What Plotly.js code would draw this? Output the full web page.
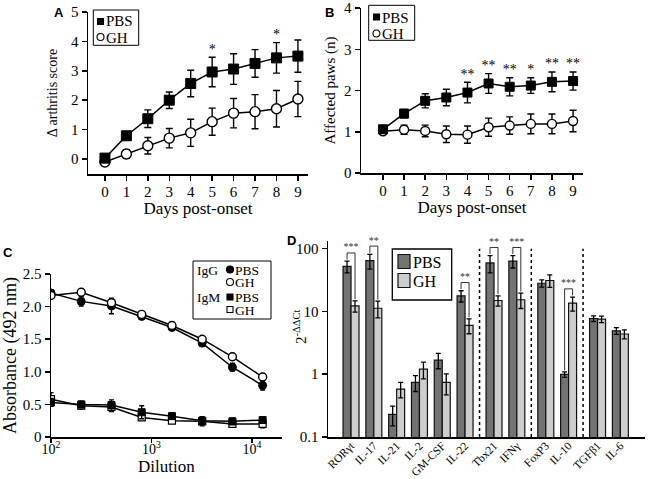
<!DOCTYPE html>
<html><head><meta charset="utf-8">
<script src="https://cdn.plot.ly/plotly-3.0.1.min.js"></script>
<style>html,body{margin:0;padding:0;background:#fff}#chart{width:650px;height:479px}</style>
</head><body><div id="chart"></div>
<script>
// ---------- Panel A: arthritis score ----------
const days = [0,1,2,3,4,5,6,7,8,9];
const scorePBS = [0.03,0.79,1.37,2.0,2.57,2.96,3.06,3.25,3.44,3.5];
const scorePBSErr = [0.05,0.13,0.3,0.28,0.45,0.5,0.52,0.47,0.52,0.55];
const scoreGH = [-0.1,0.17,0.45,0.71,0.89,1.27,1.56,1.61,1.71,2.04];
const scoreGHErr = [0.05,0.15,0.28,0.33,0.46,0.46,0.5,0.58,0.62,0.6];
const scoreSig = ['','','','','','*','','','*',''];

// ---------- Panel B: affected paws ----------
const pawsPBS = [1.06,1.44,1.75,1.83,1.95,2.17,2.09,2.12,2.21,2.23];
const pawsPBSErr = [0.05,0.1,0.17,0.2,0.25,0.24,0.22,0.19,0.24,0.22];
const pawsGH = [1.01,1.05,1.02,0.94,0.93,1.11,1.15,1.19,1.19,1.26];
const pawsGHErr = [0.04,0.11,0.14,0.2,0.21,0.22,0.21,0.24,0.24,0.26];
const pawsSig = ['','','','','**','**','**','*','**','**'];

// ---------- Panel C: antibody titres ----------
const dilution = [100,200,400,800,1600,3200,6400,12800];
const iggPBS = [2.21,2.08,2.01,1.85,1.68,1.44,1.07,0.79];
const iggPBSErr = [0.05,0.07,0.12,0.03,0.04,0.05,0.06,0.07];
const iggGH = [2.17,2.22,2.06,1.88,1.71,1.5,1.23,0.92];
const iggGHErr = [0.04,0.05,0.03,0.04,0.05,0.04,0.05,0.05];
const igmPBS = [0.53,0.5,0.49,0.38,0.32,0.25,0.24,0.26];
const igmPBSErr = [0.06,0.05,0.08,0.1,0.05,0.06,0.05,0.05];
const igmGH = [0.58,0.48,0.46,0.3,0.25,0.24,0.2,0.2];
const igmGHErr = [0.1,0.05,0.07,0.04,0.03,0.07,0.04,0.06];

// ---------- Panel D: gene expression ----------
const genes = ['RORγt','IL-17','IL-21','IL-2','GM-CSF','IL-22','Tbx21','IFNγ','FoxP3','IL-10','TGFβ1','IL-6'];
const geneGroup = [0,0,0,0,0,0,1,1,2,2,3,3];
const exprPBS = [52,64,0.23,0.74,1.68,17.7,59,63,28,0.99,7.7,4.9];
const exprPBSErr = [11,17,0.08,0.21,0.46,3.6,18,14,3.7,0.1,0.8,0.6];
const exprGH = [12.2,11.2,0.58,1.2,0.74,6.0,14.9,15.3,31,13.5,7.5,4.36];
const exprGHErr = [2.5,3.3,0.16,0.36,0.27,1.6,2.8,4.2,7,3.4,0.9,0.7];
const exprSig = ['***','**','','','','**','**','***','','***','',''];

// ---------- styles ----------
const SERIF = 'Liberation Serif, Times New Roman, serif';
const SANS = 'Liberation Sans, Arial, sans-serif';
const GROUP_GAP = 0.27;
const BARGAP = 0.3;
const colPBS = '#737373', colGH = '#cdcdcd';
const W = 650, H = 479;
const px = x => x / W, py = y => 1 - y / H;

const xpos = genes.map((g, i) => i + GROUP_GAP * geneGroup[i]);
const half = (1 - BARGAP) / 4;

const errBar = (arr, w) => ({type:'data', array:arr, visible:true, color:'#000', thickness:1.4, width:w});
const sqFilled = (s) => ({symbol:'square', size:s, color:'#000', line:{color:'#000', width:1}});
const circOpen = (s) => ({symbol:'circle', size:s, color:'#fff', line:{color:'#000', width:1.4}});
const circFilled = (s) => ({symbol:'circle', size:s, color:'#000', line:{color:'#000', width:1}});
const sqOpen = (s) => ({symbol:'square', size:s, color:'#fff', line:{color:'#000', width:1.2}});
const lineSt = {color:'#000', width:1.5};

function sigTrace(xs, vals, errs, sig, xa, ya) {
  const idx = sig.map((s, i) => s ? i : -1).filter(i => i >= 0);
  return {x:idx.map(i => xs[i]), y:idx.map(i => vals[i] + errs[i]), text:idx.map(i => sig[i]),
    mode:'text', textposition:'top center', textfont:{family:SERIF, size:14, color:'#000'},
    cliponaxis:false, xaxis:xa, yaxis:ya, showlegend:false, hoverinfo:'skip'};
}

const traces = [];
// Panel A
traces.push({x:days, y:scoreGH, error_y:errBar(scoreGHErr,3.5), mode:'lines+markers', line:lineSt, marker:circOpen(10), xaxis:'x', yaxis:'y', showlegend:false, name:'GH'});
traces.push({x:days, y:scorePBS, error_y:errBar(scorePBSErr,3.5), mode:'lines+markers', line:lineSt, marker:sqFilled(10), xaxis:'x', yaxis:'y', showlegend:false, name:'PBS'});
traces.push(sigTrace(days, scorePBS, scorePBSErr, scoreSig, 'x', 'y'));
// Panel B
traces.push({x:days, y:pawsGH, error_y:errBar(pawsGHErr,3.5), mode:'lines+markers', line:lineSt, marker:circOpen(9), xaxis:'x2', yaxis:'y2', showlegend:false, name:'GH'});
traces.push({x:days, y:pawsPBS, error_y:errBar(pawsPBSErr,3.5), mode:'lines+markers', line:lineSt, marker:sqFilled(9), xaxis:'x2', yaxis:'y2', showlegend:false, name:'PBS'});
traces.push(sigTrace(days, pawsPBS, pawsPBSErr, pawsSig, 'x2', 'y2'));
// Panel C
traces.push({x:dilution, y:igmGH, error_y:errBar(igmGHErr,2.5), mode:'lines+markers', line:lineSt, marker:sqOpen(7), xaxis:'x3', yaxis:'y3', showlegend:false, name:'IgM GH'});
traces.push({x:dilution, y:igmPBS, error_y:errBar(igmPBSErr,2.5), mode:'lines+markers', line:lineSt, marker:sqFilled(7), xaxis:'x3', yaxis:'y3', showlegend:false, name:'IgM PBS'});
traces.push({x:dilution, y:iggPBS, error_y:errBar(iggPBSErr,2.5), mode:'lines+markers', line:lineSt, marker:circFilled(8), xaxis:'x3', yaxis:'y3', showlegend:false, name:'IgG PBS'});
traces.push({x:dilution, y:iggGH, error_y:errBar(iggGHErr,2.5), mode:'lines+markers', line:lineSt, marker:circOpen(8), xaxis:'x3', yaxis:'y3', showlegend:false, name:'IgG GH'});
// Panel D
traces.push({type:'bar', x:xpos, y:exprPBS, name:'PBS', marker:{color:colPBS, line:{color:'#111', width:1.2}}, error_y:Object.assign(errBar(exprPBSErr,2.5),{thickness:1.3}), xaxis:'x4', yaxis:'y4', showlegend:false});
traces.push({type:'bar', x:xpos, y:exprGH, name:'GH', marker:{color:colGH, line:{color:'#111', width:1.2}}, error_y:Object.assign(errBar(exprGHErr,2.5),{thickness:1.3}), xaxis:'x4', yaxis:'y4', showlegend:false});

// brackets + stars for D
const bx = [], by = [], sx = [], sy = [], st = [];
exprSig.forEach((s, i) => {
  if (!s) return;
  const pTop = exprPBS[i] + exprPBSErr[i];
  const gTop = exprGH[i] + exprGHErr[i];
  const top = Math.max(pTop, gTop) * 1.35;
  bx.push(xpos[i]-half, xpos[i]-half, xpos[i]+half, xpos[i]+half, null);
  by.push(pTop*1.06, top, top, gTop*1.06, null);
  sx.push(xpos[i]); sy.push(top); st.push(s);
});
traces.push({x:bx, y:by, mode:'lines', line:{color:'#333', width:1}, xaxis:'x4', yaxis:'y4', showlegend:false, hoverinfo:'skip'});
traces.push({x:sx, y:sy, text:st, mode:'text', textposition:'top center', textfont:{family:SERIF,size:10,color:'#333'}, cliponaxis:false, xaxis:'x4', yaxis:'y4', showlegend:false, hoverinfo:'skip'});

// ---------- shapes ----------
const shapes = [];
for (let i = 1; i < genes.length; i++) {
  if (geneGroup[i] !== geneGroup[i-1]) {
    const xm = (xpos[i-1] + xpos[i]) / 2;
    shapes.push({type:'line', xref:'x4', yref:'y4 domain', x0:xm, x1:xm, y0:0, y1:0.96, line:{color:'#000', width:1.5, dash:'dot'}});
  }
}
const box = (x0, y0, x1, y1, w) => ({type:'rect', xref:'paper', yref:'paper', x0:px(x0), x1:px(x1), y0:py(y1), y1:py(y0), line:{color:'#000', width:w}, fillcolor:'#fff', layer:'above'});
const keySq = (cx, cy, s, fill) => ({type:'rect', xref:'paper', yref:'paper', x0:px(cx-s/2), x1:px(cx+s/2), y0:py(cy+s/2), y1:py(cy-s/2), line:{color:'#000', width:1.1}, fillcolor:fill, layer:'above'});
const keyCirc = (cx, cy, d, fill) => ({type:'circle', xref:'paper', yref:'paper', x0:px(cx-d/2), x1:px(cx+d/2), y0:py(cy+d/2), y1:py(cy-d/2), line:{color:'#000', width:1.1}, fillcolor:fill, layer:'above'});
const keyRect = (x0, y0, x1, y1, fill) => ({type:'rect', xref:'paper', yref:'paper', x0:px(x0), x1:px(x1), y0:py(y1), y1:py(y0), line:{color:'#111', width:1.2}, fillcolor:fill, layer:'above'});

// legend A
shapes.push(box(93.3, 10, 138.7, 45.3, 1));
shapes.push(keySq(100.5, 21.5, 6, '#000'));
shapes.push(keyCirc(100.5, 37, 7, '#fff'));
// legend B
shapes.push(box(368.7, 5.3, 414.7, 40.3, 1));
shapes.push(keySq(376.5, 17, 6, '#000'));
shapes.push(keyCirc(376.5, 33.5, 7, '#fff'));
// legend C
shapes.push(box(193, 261, 271, 319, 1));
shapes.push(keyCirc(230, 269.5, 7, '#000'));
shapes.push(keyCirc(230, 282, 7, '#fff'));
shapes.push(keySq(230, 297, 6, '#000'));
shapes.push(keySq(230, 309.5, 6, '#fff'));
// legend D
shapes.push(box(392.3, 249, 451.7, 300, 1.3));
shapes.push(keyRect(398, 254.5, 410, 268.5, colPBS));
shapes.push(keyRect(398, 273.5, 410, 287.5, colGH));

const ann = (text, x, y, size, opts) => Object.assign({text, x:px(x), y:py(y), xref:'paper', yref:'paper', showarrow:false, xanchor:'left', yanchor:'middle', borderpad:0, font:{family:SERIF, size, color:'#000'}}, opts || {});

const axBase = () => ({showline:true, linecolor:'#000', linewidth:1.5, ticks:'outside', ticklen:5, tickwidth:1.5, tickcolor:'#000', showgrid:false, zeroline:false, tickfont:{family:SERIF, size:15, color:'#000'}, fixedrange:true});

const layout = {
  width:W, height:H, margin:{l:0,r:0,t:0,b:0}, paper_bgcolor:'#fff', plot_bgcolor:'rgba(0,0,0,0)',
  barmode:'group', bargap:BARGAP, bargroupgap:0, showlegend:false,
  font:{family:SERIF, color:'#000'},
  xaxis:Object.assign(axBase(), {domain:[px(88), px(308)], range:[-0.79, 9.47], tickvals:days, ticklabelstandoff:-2, anchor:'y', title:{text:'Days post-onset', font:{family:SERIF,size:17}, standoff:2}}),
  yaxis:Object.assign(axBase(), {domain:[py(174), py(12)], range:[-0.51, 5], tickvals:[0,1,2,3,4,5], anchor:'x', title:{text:'Δ arthritis score', font:{family:SERIF,size:14}, standoff:10}}),
  xaxis2:Object.assign(axBase(), {domain:[px(361), px(583)], range:[-1.04, 9.47], tickvals:days, ticklabelstandoff:-2, anchor:'y2', title:{text:'Days post-onset', font:{family:SERIF,size:17}, standoff:2}}),
  yaxis2:Object.assign(axBase(), {domain:[py(173), py(8)], range:[0, 4], tickvals:[0,1,2,3,4], anchor:'x2', title:{text:'Affected paws (n)', font:{family:SERIF,size:15}, standoff:5}}),
  xaxis3:Object.assign(axBase(), {type:'log', domain:[px(51), px(282)], range:[2, 4.3], tickvals:[100,1000,10000], ticktext:['10<sup>2</sup>','10<sup>3</sup>','10<sup>4</sup>'], ticklen:4, ticklabelstandoff:-5, tickfont:{family:SERIF, size:14, color:'#000'}, anchor:'y3'}),
  yaxis3:Object.assign(axBase(), {domain:[py(437), py(274)], range:[0, 2.5], tickvals:[0,0.5,1,1.5,2,2.5], ticktext:['0','0.5','1.0','1.5','2.0','2.5'], anchor:'x3', title:{text:'Absorbance (492 nm)', font:{family:SERIF,size:18}, standoff:6}}),
  xaxis4:Object.assign(axBase(), {domain:[px(328), px(645)], range:[-1.01, 12.89], tickvals:xpos, ticktext:genes, ticks:'', tickangle:-45, ticklabelstandoff:-4, tickfont:{family:SERIF,size:11.5,color:'#000'}, anchor:'y4'}),
  yaxis4:Object.assign(axBase(), {type:'log', domain:[py(437), py(241)], range:[-1, 2.12], tickvals:[0.1,1,10,100], ticktext:['0.1','1','10','100'], anchor:'x4'}),
  shapes:shapes,
  annotations:[
    ann('<b>A</b>', 59, 12, 13, {xanchor:'center', font:{family:SANS,size:13,color:'#000'}}),
    ann('<b>B</b>', 329, 12, 13, {xanchor:'center', font:{family:SANS,size:13,color:'#000'}}),
    ann('<b>C</b>', 8, 252, 13, {xanchor:'center', font:{family:SANS,size:13,color:'#000'}}),
    ann('<b>D</b>', 291, 240, 13, {xanchor:'center', font:{family:SANS,size:13,color:'#000'}}),
    ann('Dilution', 166, 466, 17, {xanchor:'center'}),
    ann('2<sup>-ΔΔCt</sup>', 300, 327, 15, {xanchor:'center', textangle:-90}),
    // legend A
    ann('PBS', 104.5, 21.5, 15), ann('GH', 104.5, 37.5, 15),
    // legend B
    ann('PBS', 380.5, 17.5, 15), ann('GH', 380.5, 34, 15),
    // legend C
    ann('IgG', 196, 270, 13.5), ann('PBS', 234, 270, 13.5), ann('GH', 234, 282.5, 13.5),
    ann('IgM', 196, 297.5, 13.5), ann('PBS', 234, 297.5, 13.5), ann('GH', 234, 310, 13.5),
    // legend D
    ann('PBS', 412, 262, 16), ann('GH', 412, 281, 16)
  ]
};

Plotly.newPlot('chart', traces, layout, {staticPlot:true, displayModeBar:false});
</script>
</body></html>
